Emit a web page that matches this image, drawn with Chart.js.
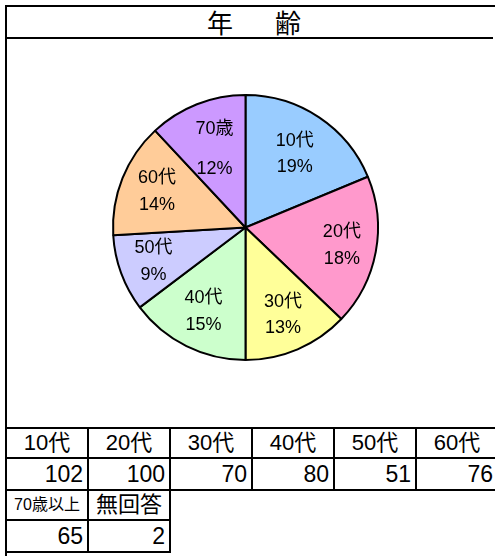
<!DOCTYPE html>
<html>
<head>
<meta charset="utf-8">
<script src="https://cdn.jsdelivr.net/npm/chart.js@4.4.0/dist/chart.umd.min.js"></script>
<style>
  html, body { margin: 0; padding: 0; background: #fff; }
  body { width: 495px; height: 556px; position: relative; overflow: hidden;
         font-family: "Liberation Sans", "Noto Sans CJK JP", sans-serif; color: #000; }
  .line { position: absolute; background: #000; }
  #title { position: absolute; left: 7px; top: 6px; width: 502px; height: 31px; line-height: 31px;
           text-align: center; font-size: 26px; letter-spacing: 8px; font-family: "Noto Sans CJK JP", sans-serif; }
  #pie { position: absolute; left: 7px; top: 39px; }
  #tbl { position: absolute; left: 5px; top: 427px; width: 494px; border-collapse: collapse; table-layout: fixed; }
  #tbl td { border: 2px solid #000; padding: 0; overflow: hidden; white-space: nowrap; }
  #tbl td.h { text-align: center; font-size: 22px; height: 28px; line-height: 28px; }
  #tbl td.v { text-align: right; font-size: 23px; height: 30px; line-height: 30px; padding-right: 4px; }
  #tbl td.small { font-size: 16px; }
  #tbl td.empty { border: none; }
</style>
</head>
<body>
<div class="line" style="left:5px;top:5px;width:490px;height:2px"></div>
<div class="line" style="left:5px;top:5px;width:2px;height:551px"></div>
<div class="line" style="left:5px;top:37px;width:488px;height:2px"></div>
<div id="title">年　齢</div>
<canvas id="pie" width="486" height="388"></canvas>
<table id="tbl"></table>
<script>
// 年齢別の回答数
const tableLabels = ['10代', '20代', '30代', '40代', '50代', '60代', '70歳以上', '無回答'];
const counts = [102, 100, 70, 80, 51, 76, 65, 2];

// 円グラフ (無回答は除く)
const sliceLabels = ['10代', '20代', '30代', '40代', '50代', '60代', '70歳'];
const sliceValues = counts.slice(0, 7);
const sliceColors = ['#99CCFF', '#FF99CC', '#FFFF99', '#CCFFCC', '#CCCCFF', '#FFCC99', '#CC99FF'];

// ラベル位置 (半径に対する比率) と行間
const labelRatio = [0.67, 0.74, 0.72, 0.71, 0.74, 0.72, 0.64];
const labelGap = [26, 27, 26, 27, 27, 27, 40];

const sliceText = {
  id: 'sliceText',
  afterDatasetsDraw(chart) {
    const ctx = chart.ctx;
    const meta = chart.getDatasetMeta(0);
    const total = sliceValues.reduce((a, b) => a + b, 0);
    ctx.save();
    ctx.fillStyle = '#000';
    ctx.font = '18px "Liberation Sans", "Noto Sans CJK JP", sans-serif';
    ctx.textAlign = 'center';
    ctx.textBaseline = 'middle';
    meta.data.forEach((arc, i) => {
      const p = arc.getProps(['x', 'y', 'startAngle', 'endAngle', 'outerRadius'], true);
      const mid = (p.startAngle + p.endAngle) / 2;
      const r = p.outerRadius * labelRatio[i];
      const cx = p.x + Math.cos(mid) * r;
      const cy = p.y + Math.sin(mid) * r;
      const pct = Math.round(sliceValues[i] / total * 100) + '%';
      ctx.fillText(sliceLabels[i], cx, cy - labelGap[i] / 2);
      ctx.fillText(pct, cx, cy + labelGap[i] / 2);
    });
    ctx.restore();
  }
};

new Chart(document.getElementById('pie').getContext('2d'), {
  type: 'pie',
  data: {
    labels: sliceLabels,
    datasets: [{
      data: sliceValues,
      backgroundColor: sliceColors,
      borderColor: '#000',
      borderWidth: 2
    }]
  },
  options: {
    responsive: false,
    animation: false,
    layout: { padding: { left: 100, right: 109, top: 55, bottom: 66 } },
    plugins: { legend: { display: false }, tooltip: { enabled: false } }
  },
  plugins: [sliceText]
});

// 表
const tbl = document.getElementById('tbl');
let html = '<colgroup>' + '<col style="width:82px">'.repeat(6) + '</colgroup>';
html += '<tr>' + tableLabels.slice(0, 6).map(t => '<td class="h">' + t + '</td>').join('') + '</tr>';
html += '<tr>' + counts.slice(0, 6).map(v => '<td class="v">' + v + '</td>').join('') + '</tr>';
html += '<tr>' + tableLabels.slice(6).map(t => '<td class="h' + (t.length > 3 ? ' small' : '') + '">' + t + '</td>').join('') +
        '<td class="empty" colspan="4"></td></tr>';
html += '<tr>' + counts.slice(6).map(v => '<td class="v">' + v + '</td>').join('') +
        '<td class="empty" colspan="4"></td></tr>';
tbl.innerHTML = html;
</script>
</body>
</html>
